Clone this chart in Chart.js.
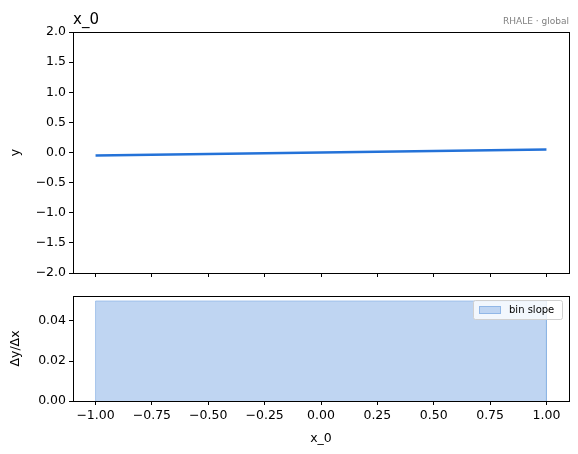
<!DOCTYPE html>
<html>
<head>
<meta charset="utf-8">
<script src="https://cdn.jsdelivr.net/npm/chart.js@4"></script>
<style>
  body { margin: 0; background: #fff; }
  #wrap { position: relative; width: 578px; height: 454px; }
  canvas { position: absolute; left: 0; }
  #topChart { top: 0; }
  #binChart { top: 280px; }
</style>
</head>
<body>
<div id="wrap">
  <canvas id="topChart" width="578" height="290"></canvas>
  <canvas id="binChart" width="578" height="174"></canvas>
</div>
<script>
// effect curve for feature x_0
const curveX = [-1, 1];
const curveY = [-0.05, 0.05];

// bin edges and slope per bin
const binEdges = [-1, 1];
const binSlope = [0.05];

const xTicks = [-1, -0.75, -0.5, -0.25, 0, 0.25, 0.5, 0.75, 1];
const yTicksTop = [-2, -1.5, -1, -0.5, 0, 0.5, 1, 1.5, 2];
const yTicksBin = [0, 0.02, 0.04];

const FONT = "'DejaVu Sans', sans-serif";
const minus = s => s.replace('-', '\u2212');

// matplotlib-style box round the plot area
const frame = {
    id: 'frame',
    afterDraw(chart) {
        const a = chart.chartArea, ctx = chart.ctx;
        ctx.save();
        ctx.strokeStyle = '#000';
        ctx.lineWidth = 1;
        ctx.strokeRect(Math.round(a.left) + 0.5, Math.round(a.top) + 0.5,
            Math.round(a.right - a.left), Math.round(a.bottom - a.top));
        ctx.restore();
    }
};

const fixedTicks = list => scale => {
    scale.ticks = list.map(v => ({ value: v }));
};

function xScale(showLabels, title) {
    return {
        type: 'linear',
        min: -1.1,
        max: 1.1,
        afterBuildTicks: fixedTicks(xTicks),
        afterFit: s => { s.height = showLabels ? 53 : 17; },
        grid: { drawOnChartArea: false, drawTicks: true, tickLength: 4, color: '#000', lineWidth: 1 },
        border: { display: true, color: '#000' },
        ticks: {
            display: showLabels,
            padding: 3,
            color: '#000',
            font: { family: FONT, size: 12.5 },
            maxRotation: 0,
            autoSkip: false,
            callback: v => minus(v.toFixed(2))
        },
        title: {
            display: !!title,
            text: title || '',
            color: '#000',
            font: { family: FONT, size: 12.5 },
            padding: { top: 4, bottom: 8 }
        }
    };
}

function yScale(min, max, ticks, digits, title) {
    return {
        min: min,
        max: max,
        afterBuildTicks: fixedTicks(ticks),
        afterFit: s => { s.width = 73; },
        grid: { drawOnChartArea: false, drawTicks: true, tickLength: 4, color: '#000', lineWidth: 1 },
        border: { display: true, color: '#000' },
        ticks: {
            padding: 3,
            color: '#000',
            font: { family: FONT, size: 12.5 },
            callback: v => minus(v.toFixed(digits))
        },
        title: {
            display: true,
            text: title,
            color: '#000',
            font: { family: FONT, size: 12.5 },
            padding: { top: 8, bottom: 0 }
        }
    };
}

// panel titles
const headings = {
    id: 'headings',
    afterDraw(chart) {
        const a = chart.chartArea, ctx = chart.ctx;
        ctx.save();
        ctx.textBaseline = 'alphabetic';
        ctx.fillStyle = '#000';
        ctx.font = "15px " + FONT;
        ctx.textAlign = 'left';
        ctx.fillText('x_0', a.left, a.top - 8);
        ctx.fillStyle = '#808080';
        ctx.font = "9px " + FONT;
        ctx.textAlign = 'right';
        ctx.fillText('RHALE \u00b7 global', a.right, a.top - 8);
        ctx.restore();
    }
};

// legend box inside the lower panel, upper right
const innerLegend = {
    id: 'innerLegend',
    afterDraw(chart) {
        const a = chart.chartArea, ctx = chart.ctx;
        const ds = chart.data.datasets[0];
        const w = 89, h = 19;
        const x = a.right - 7 - w, y = a.top + 4;
        ctx.save();
        ctx.fillStyle = 'rgba(255,255,255,0.8)';
        ctx.strokeStyle = '#d0d0d0';
        ctx.lineWidth = 1;
        ctx.beginPath();
        ctx.roundRect(x + 0.5, y + 0.5, w, h, 2);
        ctx.fill();
        ctx.stroke();
        ctx.fillStyle = ds.backgroundColor;
        ctx.fillRect(x + 6, y + 6, 22, 8);
        ctx.strokeStyle = ds.borderColor;
        ctx.strokeRect(x + 6.5, y + 6.5, 21, 7);
        ctx.fillStyle = '#000';
        ctx.font = "10px " + FONT;
        ctx.textBaseline = 'middle';
        ctx.textAlign = 'left';
        ctx.fillText(ds.label, x + 36, y + 10);
        ctx.restore();
    }
};

new Chart(document.getElementById('topChart'), {
    type: 'line',
    data: {
        datasets: [{
            data: curveX.map((x, i) => ({ x: x, y: curveY[i] })),
            borderColor: '#2472d8',
            borderWidth: 2.4,
            pointRadius: 0,
            fill: false
        }]
    },
    options: {
        responsive: false,
        animation: false,
        layout: { padding: { left: 0, right: 9, top: 32, bottom: 0 } },
        plugins: { legend: { display: false }, tooltip: { enabled: false } },
        scales: {
            x: xScale(false),
            y: yScale(-2, 2, yTicksTop, 1, 'y')
        }
    },
    plugins: [frame, headings]
});

// outline of each bin as a closed step shape
const binPoints = [];
binSlope.forEach((s, i) => {
    binPoints.push({ x: binEdges[i], y: 0 });
    binPoints.push({ x: binEdges[i], y: s });
    binPoints.push({ x: binEdges[i + 1], y: s });
    binPoints.push({ x: binEdges[i + 1], y: 0 });
});

new Chart(document.getElementById('binChart'), {
    type: 'line',
    data: {
        datasets: [{
            label: 'bin slope',
            data: binPoints,
            borderColor: 'rgba(140,180,230,0.9)',
            backgroundColor: 'rgb(191,213,242)',
            borderWidth: 0.8,
            pointRadius: 0,
            fill: 'origin'
        }]
    },
    options: {
        responsive: false,
        animation: false,
        layout: { padding: { left: 0, right: 9, top: 16, bottom: 0 } },
        plugins: { legend: { display: false }, tooltip: { enabled: false } },
        scales: {
            x: xScale(true, 'x_0'),
            y: yScale(0, 0.0525, yTicksBin, 2, '\u0394y/\u0394x')
        }
    },
    plugins: [frame, innerLegend]
});
</script>
</body>
</html>
